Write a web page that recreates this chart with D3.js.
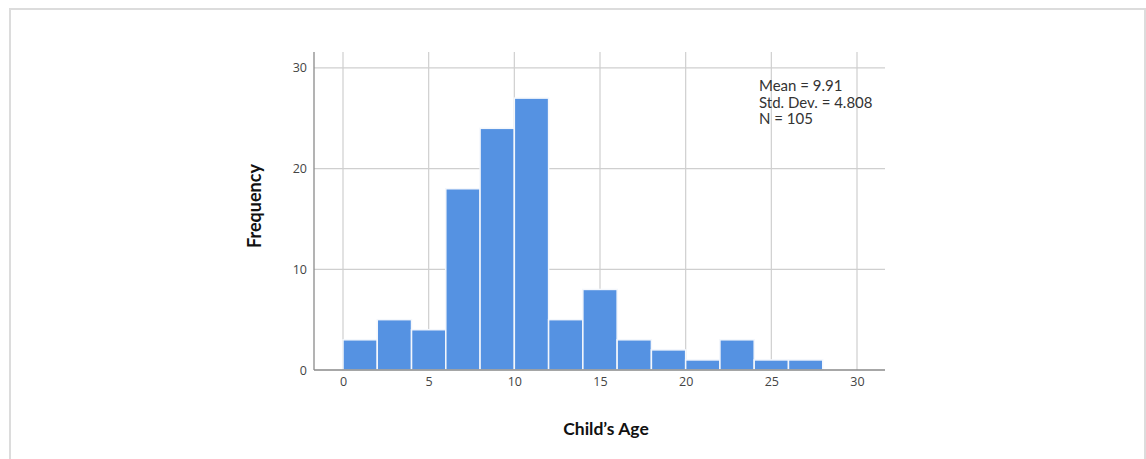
<!DOCTYPE html>
<html>
<head>
<meta charset="utf-8">
<script src="https://cdn.jsdelivr.net/npm/d3@7"></script>
<style>
  html, body { margin: 0; padding: 0; background: #fff; }
  svg { display: block; }
</style>
</head>
<body>
<svg id="chart" width="1146" height="459"></svg>
<script>
// histogram bins (width 2) and counts
var binStarts = [0, 2, 4, 6, 8, 10, 12, 14, 16, 18, 20, 22, 24, 26];
var binWidth = 2;
var counts = [3, 5, 4, 18, 24, 27, 5, 8, 3, 2, 1, 3, 1, 1];
var xTicks = [0, 5, 10, 15, 20, 25, 30];
var yTicks = [0, 10, 20, 30];
var statLines = ["Mean = 9.91", "Std. Dev. = 4.808", "N = 105"];

var svg = d3.select("#chart");

// outer frame
svg.append("path")
  .attr("d", "M10,470 L10,9 L1145,9 L1145,470")
  .attr("fill", "none")
  .attr("stroke", "#dcdcdc")
  .attr("stroke-width", 2);

var plot = {left: 314, right: 885, top: 52, bottom: 370};

var x = d3.scaleLinear().domain([0, 30]).range([343, 857]);
var y = d3.scaleLinear().domain([0, 30]).range([plot.bottom, 67.9]);

// grid lines
svg.append("g").selectAll("line")
  .data(yTicks.filter(function(d){ return d > 0; }))
  .enter().append("line")
  .attr("x1", plot.left).attr("x2", plot.right)
  .attr("y1", function(d){ return y(d); }).attr("y2", function(d){ return y(d); })
  .attr("stroke", "#cfcfcf").attr("stroke-width", 1.2);

svg.append("g").selectAll("line")
  .data(xTicks)
  .enter().append("line")
  .attr("x1", function(d){ return x(d); }).attr("x2", function(d){ return x(d); })
  .attr("y1", plot.top).attr("y2", plot.bottom)
  .attr("stroke", "#cfcfcf").attr("stroke-width", 1.2);

// bars
svg.append("g").selectAll("rect")
  .data(counts)
  .enter().append("rect")
  .attr("x", function(d, i){ return x(binStarts[i]); })
  .attr("width", function(d, i){ return x(binStarts[i] + binWidth) - x(binStarts[i]); })
  .attr("y", function(d){ return y(d); })
  .attr("height", function(d){ return plot.bottom - y(d); })
  .attr("fill", "#5592e2")
  .attr("stroke", "#f4f7fc")
  .attr("stroke-width", 1.5);

// axes lines
svg.append("line")
  .attr("x1", plot.left).attr("x2", plot.left)
  .attr("y1", plot.top).attr("y2", plot.bottom)
  .attr("stroke", "#8a8a8a").attr("stroke-width", 1.3);
svg.append("line")
  .attr("x1", plot.left).attr("x2", plot.right)
  .attr("y1", plot.bottom).attr("y2", plot.bottom)
  .attr("stroke", "#8a8a8a").attr("stroke-width", 1.3);

// tick labels through d3 axes, no tick marks
var xAxis = svg.append("g")
  .attr("transform", "translate(0," + (plot.bottom + 4) + ")")
  .call(d3.axisBottom(x).tickValues(xTicks).tickSize(0).tickPadding(3));
var yAxis = svg.append("g")
  .attr("transform", "translate(" + (plot.left - 5) + ",0)")
  .call(d3.axisLeft(y).tickValues(yTicks).tickSize(0).tickPadding(2));

[xAxis, yAxis].forEach(function(a){
  a.select(".domain").remove();
  a.selectAll("text")
    .attr("fill", "#444")
    .style("font-family", "'Open Sans', sans-serif")
    .style("font-size", "12.5px");
});

// axis titles
svg.append("text")
  .attr("transform", "translate(261,206) rotate(-90)")
  .attr("text-anchor", "middle")
  .style("font-family", "Lato, sans-serif")
  .style("font-weight", "bold")
  .style("font-size", "18px")
  .attr("fill", "#111")
  .text("Frequency");

svg.append("text")
  .attr("x", 606).attr("y", 435)
  .attr("text-anchor", "middle")
  .style("font-family", "Lato, sans-serif")
  .style("font-weight", "bold")
  .style("font-size", "17.5px")
  .attr("fill", "#111")
  .text("Child\u2019s Age");

// stats box
svg.append("g").selectAll("text")
  .data(statLines)
  .enter().append("text")
  .attr("x", 759)
  .attr("y", function(d, i){ return 91 + i * 16.5; })
  .style("font-family", "Lato, sans-serif")
  .style("font-size", "15px")
  .attr("fill", "#333")
  .text(function(d){ return d; });
</script>
</body>
</html>
